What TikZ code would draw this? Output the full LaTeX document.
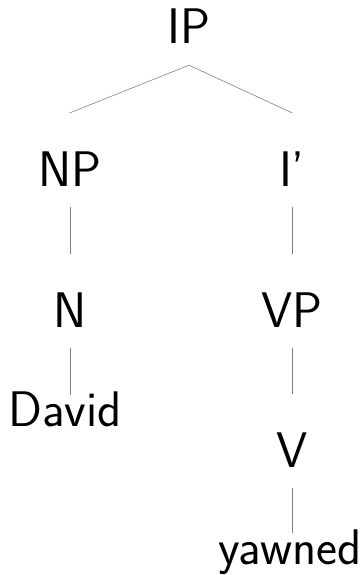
\documentclass[tikz,border=0pt]{standalone}
\usepackage{fontspec}

\tikzset{
  cat/.style={font=\sffamily\fontsize{50}{60}\selectfont,inner sep=0pt,anchor=base,
    text height=73pt,text depth=21pt},
  leaf/.style={cat,text height=31pt},
  branch/.style={draw=black!50,line width=0.6pt}
}

\begin{document}
\begin{tikzpicture}[x=1pt,y=-1pt]
\useasboundingbox (0,0) rectangle (363,575);

% categories
\node[cat] (IP) at (189,44) {IP};
\node[cat] (NP) at (70,186) {NP};
\node[cat] (Ibar) at (292,186) {I’};
\node[cat] (N) at (70,327) {N};
\node[cat] (VP) at (292,327) {VP};
\node[cat] (V) at (292,467) {V};

% words
\node[leaf] (David) at (65,426) {David};
\node[leaf] (yawned) at (290,564) {yawned};

% branches
\draw[branch] (IP.south) -- (NP.north);
\draw[branch] (IP.south) -- (Ibar.north);
\draw[branch] (NP.south) -- (N.north);
\draw[branch] (N.south) -- (David.north -| N.south);
\draw[branch] (Ibar.south) -- (VP.north);
\draw[branch] (VP.south) -- (V.north);
\draw[branch] (V.south) -- (yawned.north -| V.south);

\end{tikzpicture}
\end{document}
